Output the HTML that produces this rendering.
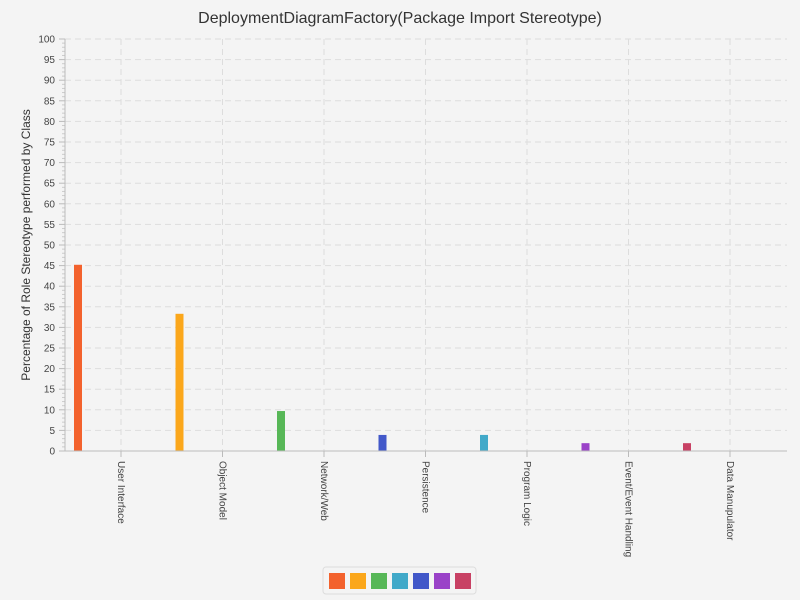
<!DOCTYPE html>
<html><head><meta charset="utf-8"><style>
body{margin:0;background:#f4f4f4;font-family:"Liberation Sans",sans-serif;}
svg{display:block}
</style></head><body>
<svg id="c" width="800" height="600"></svg>
<script>
const categories=["User Interface","Object Model","Network/Web","Persistence","Program Logic","Event/Event Handling","Data Manupulator"];
const values=[45.2,33.3,9.7,3.9,3.9,1.9,1.9];
const barColors=["#f3622d","#fba71b","#57b757","#4258c9","#41a9c9","#9a42c8","#c84164"];
const legendColors=["#f3622d","#fba71b","#57b757","#41a9c9","#4258c9","#9a42c8","#c84164"];
const yTicks=[0,5,10,15,20,25,30,35,40,45,50,55,60,65,70,75,80,85,90,95,100];
const NS="http://www.w3.org/2000/svg";
const svg=document.getElementById('c');
const X0=65,X1=787,Y0=451,Y1=39;
const y=v=>Y0-(v/100)*(Y0-Y1);
const cx=i=>121+101.5*i;
function el(t,a,p){const e=document.createElementNS(NS,t);for(const k in a)e.setAttribute(k,a[k]);(p||svg).appendChild(e);return e;}
let t=el('text',{x:400,y:23,'text-anchor':'middle','font-size':16,fill:'#333'});t.textContent="DeploymentDiagramFactory(Package Import Stereotype)";


t=el('text',{x:0,y:0,'text-anchor':'middle','font-size':12,fill:'#333',transform:'translate(30,245) rotate(-90)'});t.textContent="Percentage of Role Stereotype performed by Class";


yTicks.forEach(v=>{
  if(v>0){const g=el('line',{x1:X0,x2:X1,y1:y(v),y2:y(v),stroke:'#ddd','stroke-dasharray':'6,4'});
  
  }
  el('line',{x1:X0-6,x2:X0,y1:y(v),y2:y(v),stroke:'#bbb'});
  const l=el('text',{x:X0-10,y:y(v)+3.5,'text-anchor':'end','font-size':10,fill:'#444'});l.textContent=v;
  
  
});
for(let m=0;m<100;m++){if(m%5)el('line',{x1:X0-3,x2:X0,y1:y(m),y2:y(m),stroke:'#ccc'});}
el('line',{x1:X0,x2:X0,y1:Y1,y2:Y0,stroke:'#bbb'});
categories.forEach((c,i)=>{
  const g=el('line',{x1:cx(i),x2:cx(i),y1:Y1,y2:Y0,stroke:'#ddd','stroke-dasharray':'6,4'});
  
  
  el('line',{x1:cx(i),x2:cx(i),y1:Y0,y2:Y0+6,stroke:'#bbb'});
  const l=el('text',{x:0,y:0,'font-size':10,fill:'#444',transform:`translate(${cx(i)-3},461) rotate(90)`});l.textContent=c;
  
  
  const b=el('rect',{x:cx(i)-47,y:y(values[i]),width:8,height:Y0-y(values[i]),fill:barColors[i]});
  
  
});
el('line',{x1:X0,x2:X1,y1:Y0,y2:Y0,stroke:'#bbb'});
const lg=el('rect',{x:323,y:567,width:153,height:27,rx:3,fill:'#f4f4f4',stroke:'#ddd'});


legendColors.forEach((c,i)=>{
  const s=el('rect',{x:329+i*21,y:573,width:16,height:16,fill:c});
  
  
});
</script>
</body></html>
